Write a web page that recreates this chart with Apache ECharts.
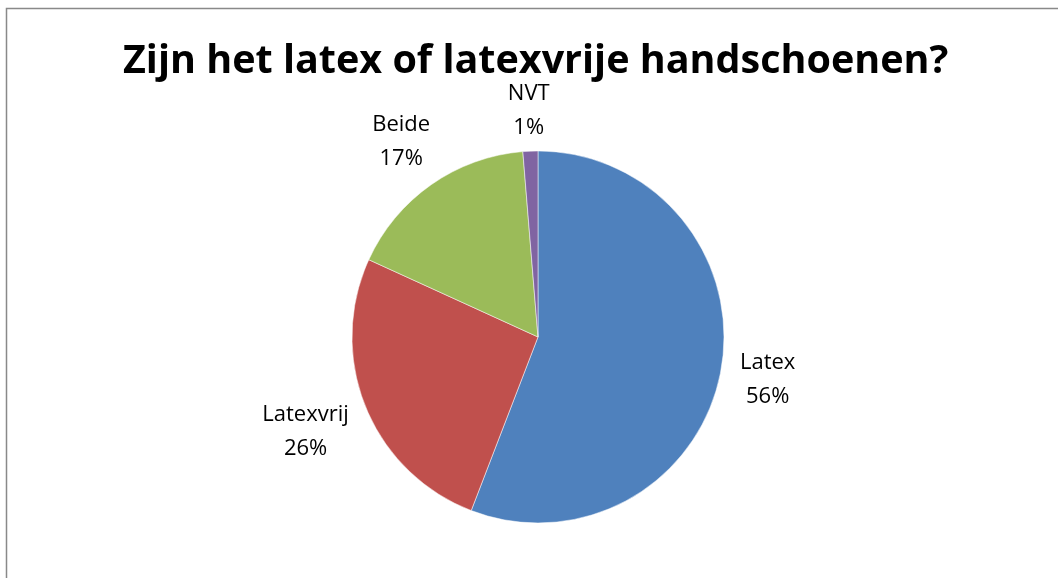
<!DOCTYPE html>
<html>
<head>
<meta charset="utf-8">
<script src="https://cdn.jsdelivr.net/npm/echarts@6/dist/echarts.min.js"></script>
<style>
html,body{margin:0;padding:0;background:#fff;}
#chart{width:1058px;height:578px;}
</style>
</head>
<body>
<div id="chart"></div>
<script>
const titleText = 'Zijn het latex of latexvrije handschoenen?';
const categories = ['Latex', 'Latexvrij', 'Beide', 'NVT'];
const counts = [43, 20, 13, 1];
const colors = ['#4F81BD', '#C0504D', '#9BBB59', '#8064A2'];

const chart = echarts.init(document.getElementById('chart'));
const CX = 0.5085, CY = 0.583, R = 186, GAP = 16;
const total = counts.reduce((a, b) => a + b, 0);

function midDir(i) {
  let before = 0;
  for (let k = 0; k < i; k++) before += counts[k];
  const frac = (before + counts[i] / 2) / total;
  const a = frac * 2 * Math.PI; // clockwise from top
  return [Math.sin(a), -Math.cos(a)];
}

chart.setOption({
  backgroundColor: '#ffffff',
  title: {
    text: titleText,
    left: 118,
    top: 37,
    textStyle: { fontFamily: 'Open Sans', fontWeight: 'bold', fontSize: 39.5, color: '#000' }
  },
  graphic: [{
    type: 'rect',
    shape: { x: 6.5, y: 8.5, width: 1200, height: 700 },
    style: { fill: 'none', stroke: '#898989', lineWidth: 1.5 },
    silent: true
  }],
  series: [{
    type: 'pie',
    center: [(CX * 100) + '%', (CY * 100) + '%'],
    radius: R,
    startAngle: 90,
    clockwise: true,
    percentPrecision: 0,
    avoidLabelOverlap: false,
    animation: false,
    data: categories.map((c, i) => ({ name: c, value: counts[i], itemStyle: { color: colors[i] } })),
    itemStyle: { borderColor: '#ffffff', borderWidth: 0.5 },
    label: {
      show: true,
      position: 'outside',
      formatter: '{b}\n{d}%',
      fontFamily: 'Open Sans',
      fontSize: 22,
      lineHeight: 34,
      color: '#000'
    },
    labelLine: { show: false, length: 0, length2: 0 },
    emphasis: { disabled: true },
    labelLayout: function (params) {
      const w = params.labelRect.width, h = params.labelRect.height;
      const [ux, uy] = midDir(params.dataIndex);
      const cx = chart.getWidth() * CX, cy = chart.getHeight() * CY;
      const d = R + GAP + Math.abs(ux) * w / 2 + Math.abs(uy) * h * 0.35;
      return { x: cx + d * ux, y: cy + d * uy, align: 'center', verticalAlign: 'middle' };
    }
  }]
});
</script>
</body>
</html>
